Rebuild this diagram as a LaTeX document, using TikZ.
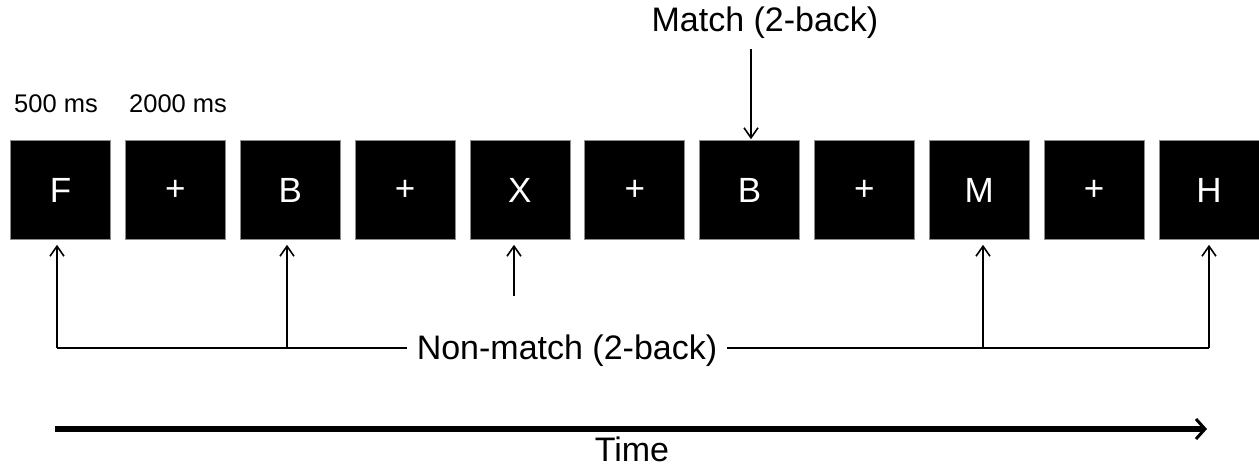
\documentclass[tikz,border=0pt]{standalone}
\usepackage{fontspec}
\setmainfont{Liberation Sans}
\usetikzlibrary{arrows.meta}
\begin{document}
\begin{tikzpicture}[x=1pt,y=-1pt,
  stim/.style={fill=black,draw=black!45,line width=0.6pt,minimum width=100pt,minimum height=99pt,
    inner sep=0pt,text=white,font=\fontsize{35}{38}\selectfont},
  lbl/.style={font=\fontsize{34}{37}\selectfont,inner sep=2pt},
  small/.style={font=\fontsize{25.5}{28}\selectfont,anchor=west,inner sep=0pt},
  pointer/.style={line width=1.6pt,-{Straight Barb[length=10pt,width=14pt,line width=1.6pt]},shorten >=5pt},
  link/.style={line width=1.6pt}]
  \useasboundingbox (0,0) rectangle (1259,467);
  % stimulus sequence
  \foreach \s [count=\i from 0] in {F,+,B,+,X,+,B,+,M,+,H}
    \node[stim] (b\i) at ({60.5+\i*114.85},190) {\s};
  % durations
  \node[small] (t1) at (14,104) {500 ms};
  \node[small] (t2) at (129,104) {2000 ms};
  % match cue
  \node[lbl] (m) at (765,23) {Match (2-back)};
  \coordinate (mtop) at (751,49);
  \draw[pointer,shorten >=1pt] (mtop) -- (mtop |- b6.north);
  % non-match cue
  \node[lbl,inner xsep=10pt] (nm) at (567,351) {Non-match (2-back)};
  \coordinate (j0) at (57,348);
  \coordinate (j2) at (287,348);
  \coordinate (j8) at (983,348);
  \coordinate (j10) at (1209,348);
  \coordinate (x4) at (514,296);
  \draw[link] (j0) -- (nm.west |- j0);
  \draw[link] (nm.east |- j10) -- (j10);
  \draw[pointer] (j0) -- (j0 |- b0.south);
  \draw[pointer] (j2) -- (j2 |- b2.south);
  \draw[pointer] (x4) -- (x4 |- b4.south);
  \draw[pointer] (j8) -- (j8 |- b8.south);
  \draw[pointer] (j10) -- (j10 |- b10.south);
  % time axis
  \coordinate (ts) at (55,429);
  \coordinate (te) at (1207,429);
  \draw[line width=6pt,-{Straight Barb[length=9pt,width=20pt,line width=3pt]}] (ts) -- (te);
  \node[lbl] (time) at (632,449) {Time};
\end{tikzpicture}
\end{document}
